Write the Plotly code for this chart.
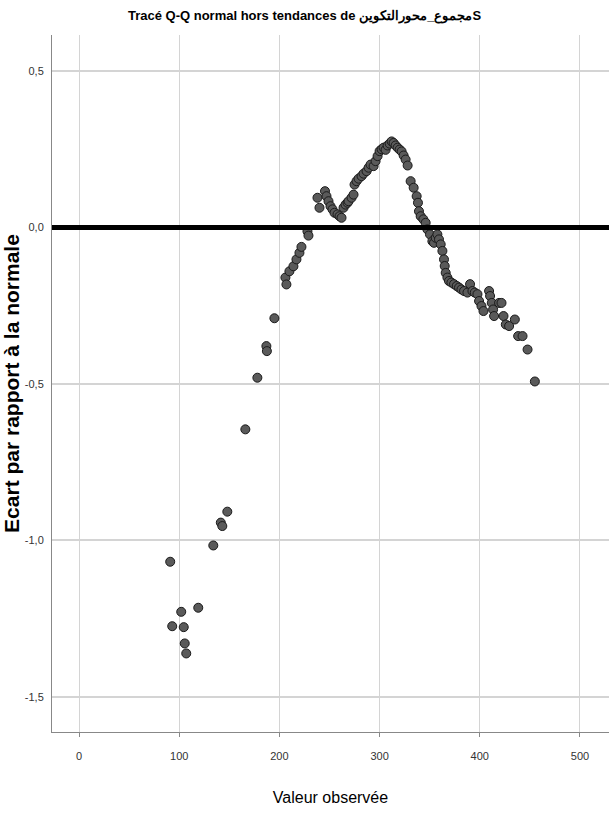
import plotly.graph_objects as go

# Observed values (x) and deviation from normal (y)
obs = [91, 93, 102, 104.5, 105.5, 107, 119, 134, 141.5, 143, 148, 166, 178, 187, 187.5, 195,
       206, 207, 210, 214, 217, 220, 222, 228, 229,
       238, 240, 245.5, 247, 249, 251, 253, 255, 258, 260, 262, 264, 266, 268, 269, 272, 274,
       275, 277, 279, 282, 284, 287, 289, 291, 294, 296, 298, 300,
       302, 304, 306, 308, 310, 312, 314, 316, 318, 320, 322, 324, 326, 328, 331,
       334, 337, 338.3, 339.3, 341, 343.7, 346, 347.7, 350.3, 352.7, 354.3, 356, 357.7, 359.3,
       361, 362.7, 364.3, 365, 366, 367.7, 369.3, 371.7, 374.3, 377, 379.3, 381.7, 384.3,
       387.7, 390.3, 392.7, 395, 397.7, 399.3, 401.7, 403.7,
       409.3, 410.3, 412, 413.3, 414.3, 419.3, 421.7, 423.7, 426, 429.3, 435, 438.3, 442.7,
       447.7, 455]
dev = [-1.068, -1.274, -1.228, -1.277, -1.329, -1.361, -1.215, -1.016, -0.943, -0.954, -0.908,
       -0.645, -0.480, -0.379, -0.395, -0.290,
       -0.160, -0.182, -0.140, -0.124, -0.102, -0.081, -0.062, -0.012, -0.026,
       0.095, 0.063, 0.116, 0.100, 0.084, 0.068, 0.058, 0.047, 0.042, 0.036, 0.031, 0.063,
       0.073, 0.079, 0.084, 0.095, 0.105,
       0.137, 0.148, 0.156, 0.164, 0.172, 0.180, 0.191, 0.201, 0.196, 0.212, 0.228, 0.244,
       0.250, 0.255, 0.248, 0.262, 0.268, 0.275, 0.270, 0.262, 0.255, 0.249, 0.243, 0.230,
       0.217, 0.198, 0.148,
       0.127, 0.100, 0.079, 0.052, 0.036, 0.026, 0.015, -0.006, -0.022, -0.044, -0.049,
       -0.033, -0.022, -0.038,
       -0.054, -0.075, -0.102, -0.123, -0.145, -0.160, -0.171, -0.176, -0.181, -0.187,
       -0.192, -0.198, -0.203,
       -0.208, -0.181, -0.203, -0.208, -0.213, -0.235, -0.251, -0.267,
       -0.203, -0.219, -0.241, -0.262, -0.283, -0.241, -0.241, -0.283, -0.310, -0.315,
       -0.294, -0.347, -0.347, -0.390, -0.492]

x_ticks = [0, 100, 200, 300, 400, 500]
x_tick_labels = ["0", "100", "200", "300", "400", "500"]
y_ticks = [0.5, 0.0, -0.5, -1.0, -1.5]
y_tick_labels = ["0,5", "0,0", "-0,5", "-1,0", "-1,5"]

title_text = "Tracé Q-Q normal hors tendances de مجموع_محورالتكوينS"
x_title = "Valeur observée"
y_title = "Ecart par rapport à la normale"

arial = "Liberation Sans, Arial, sans-serif"

fig = go.Figure()
fig.add_trace(go.Scatter(
    x=obs, y=dev, mode="markers",
    marker=dict(size=9, color="#5a5a5a", line=dict(color="#1a1a1a", width=1)),
    showlegend=False, hoverinfo="x+y"))

fig.add_shape(type="line", xref="paper", yref="y", x0=0, x1=1, y0=0, y1=0,
              line=dict(color="black", width=5))

fig.update_layout(
    width=609, height=819,
    margin=dict(l=52, r=0, t=35, b=87),
    paper_bgcolor="white", plot_bgcolor="white",
    title=dict(text=title_text, x=0.5, xanchor="center", y=0.987, yanchor="top",
               font=dict(family=arial, size=13, color="black", weight="bold")),
    xaxis=dict(range=[-27, 529], tickvals=x_ticks, ticktext=x_tick_labels,
               showgrid=True, gridcolor="#d4d4d4", gridwidth=1,
               zeroline=False, showline=True, linecolor="#888888", linewidth=1,
               ticks="outside", ticklen=4, tickcolor="#888888",
               ticklabelstandoff=10,
               tickfont=dict(family=arial, size=11, color="#333333"),
               title=dict(text=x_title, standoff=30,
                          font=dict(family=arial, size=16, color="black"))),
    yaxis=dict(range=[-1.612, 0.615], tickvals=y_ticks, ticktext=y_tick_labels,
               showgrid=True, gridcolor="#d4d4d4", gridwidth=2,
               zeroline=False, showline=True, linecolor="#888888", linewidth=1,
               ticks="", ticklabelstandoff=5,
               tickfont=dict(family=arial, size=11, color="#333333"),
               title=dict(text=y_title, standoff=4,
                          font=dict(family=arial, size=21,
                                    color="black", weight="bold"))),
)

fig.write_html("out.html")
